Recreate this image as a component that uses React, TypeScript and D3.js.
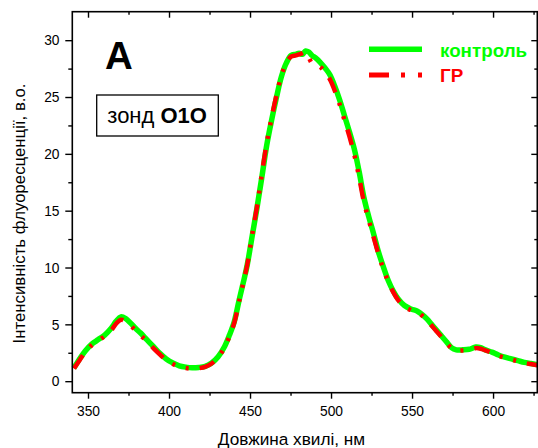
import React from "react";
import * as d3 from "d3";

const wavelengths = [341, 345, 348, 352, 356, 360, 364, 367, 370, 373, 376, 379, 382, 386, 390, 394, 398, 402, 406, 410, 414, 418, 422, 426, 430, 434, 437, 440, 443, 446, 448, 451, 454, 457, 460, 463, 466, 469, 472, 475, 478, 480, 482, 484, 486, 488, 490, 493, 496, 499, 502, 505, 508, 511, 514, 517, 520, 523, 526, 529, 532, 535, 538, 541, 545, 549, 553, 556, 559, 562, 565, 568, 571, 574, 577, 581, 585, 589, 592, 595, 599, 603, 607, 611, 615, 619, 623, 627];

const control = [1.2, 2.1, 2.7, 3.3, 3.7, 4.1, 4.7, 5.3, 5.7, 5.55, 5.15, 4.7, 4.3, 3.7, 3.1, 2.5, 2.0, 1.65, 1.4, 1.28, 1.22, 1.25, 1.35, 1.65, 2.2, 3.1, 4.1, 5.3, 7.2, 9.0, 10.3, 12.8, 15.3, 18.0, 20.8, 23.0, 25.0, 26.8, 28.0, 28.7, 28.8, 28.9, 28.8, 29.1, 29.0, 28.7, 28.5, 28.1, 27.6, 27.0, 26.0, 24.8, 23.4, 22.0, 20.5, 18.5, 16.2, 14.5, 13.0, 11.4, 10.1, 8.9, 8.0, 7.3, 6.7, 6.4, 6.2, 5.9, 5.5, 5.0, 4.5, 4.0, 3.5, 3.0, 2.8, 2.8, 2.85, 3.05, 3.0, 2.8, 2.6, 2.35, 2.15, 2.0, 1.85, 1.7, 1.6, 1.5];

const gr = [1.15, 2.0, 2.6, 3.2, 3.6, 4.0, 4.5, 5.1, 5.45, 5.3, 4.95, 4.5, 4.1, 3.55, 2.95, 2.4, 1.9, 1.55, 1.32, 1.2, 1.15, 1.18, 1.3, 1.6, 2.15, 3.0, 4.0, 5.2, 7.1, 9.0, 10.3, 12.9, 15.4, 18.3, 21.0, 23.2, 25.2, 26.9, 28.0, 28.6, 28.7, 28.8, 28.9, 29.0, 28.5, 28.0, 27.9, 27.7, 27.2, 26.6, 25.6, 24.4, 23.0, 21.6, 20.0, 18.0, 15.8, 14.2, 12.7, 11.2, 9.9, 8.8, 7.9, 7.2, 6.6, 6.3, 6.1, 5.8, 5.4, 4.9, 4.4, 3.9, 3.4, 2.95, 2.75, 2.75, 2.8, 2.95, 2.9, 2.75, 2.55, 2.3, 2.1, 1.95, 1.8, 1.65, 1.55, 1.45];

const xMajorTicks = [350, 400, 450, 500, 550, 600];
const xMinorTicks = [375, 425, 475, 525, 575, 625];
const yMajorTicks = [0, 5, 10, 15, 20, 25, 30];
const yMinorTicks = [2.5, 7.5, 12.5, 17.5, 22.5, 27.5];

const seriesNames = ["контроль", "ГР"];
const xTitle = "Довжина хвилі, нм";
const yTitle = "Інтенсивність флуоресценції, в.о.";

const FONT = "'Liberation Sans', Arial, sans-serif";
const GREEN = "#00ff00";
const RED = "#ff0000";

export default function App() {
  const W = 538, H = 448;
  const left = 72.3, right = 537.3, top = 11.7, bottom = 392.7;
  const x = d3.scaleLinear().domain([340, 627]).range([left, right]);
  const y = d3.scaleLinear().domain([-0.97, 32.55]).range([bottom, top]);

  const line = (vals: number[]) =>
    d3.line<number>()
      .x((_, i) => x(wavelengths[i]))
      .y((d) => y(d))
      .curve(d3.curveCatmullRom.alpha(0.5))(vals) || "";

  return (
    <svg width={W} height={H} style={{ position: "absolute", left: 0, top: 0, background: "#fff" }} fontFamily={FONT}>
      <rect x={0} y={0} width={W} height={H} fill="#fff" />
      {/* curves */}
      <path d={line(control)} fill="none" stroke={GREEN} strokeWidth={5.5} strokeLinejoin="round" />
      <path d={line(gr)} fill="none" stroke={RED} strokeWidth={4.5} strokeDasharray="16,11,3,11,3,11" />

      {/* frame */}
      <rect x={left} y={top} width={right - left} height={bottom - top} fill="none" stroke="#000" strokeWidth={1.6} />

      {/* bottom ticks */}
      {xMajorTicks.map((t) => (
        <g key={"xb" + t}>
          <line x1={x(t)} x2={x(t)} y1={bottom} y2={bottom + 6} stroke="#000" strokeWidth={1.4} />
          <line x1={x(t)} x2={x(t)} y1={top} y2={top + 6} stroke="#000" strokeWidth={1.4} />
          <text x={x(t)} y={416} textAnchor="middle" fontSize={13.8} fill="#000">{t}</text>
        </g>
      ))}
      {xMinorTicks.map((t) => (
        <g key={"xm" + t}>
          <line x1={x(t)} x2={x(t)} y1={bottom} y2={bottom + 3} stroke="#000" strokeWidth={1.4} />
          <line x1={x(t)} x2={x(t)} y1={top} y2={top + 3} stroke="#000" strokeWidth={1.4} />
        </g>
      ))}
      {yMajorTicks.map((t) => (
        <g key={"yb" + t}>
          <line x1={left - 7} x2={left} y1={y(t)} y2={y(t)} stroke="#000" strokeWidth={1.4} />
          <line x1={right - 6} x2={right} y1={y(t)} y2={y(t)} stroke="#000" strokeWidth={1.4} />
          <text x={59.5} y={y(t) + 4.8} textAnchor="end" fontSize={13.8} fill="#000">{t}</text>
        </g>
      ))}
      {yMinorTicks.map((t) => (
        <g key={"ym" + t}>
          <line x1={left - 4} x2={left} y1={y(t)} y2={y(t)} stroke="#000" strokeWidth={1.4} />
          <line x1={right - 3} x2={right} y1={y(t)} y2={y(t)} stroke="#000" strokeWidth={1.4} />
        </g>
      ))}

      {/* axis titles */}
      <text x={291.5} y={445} textAnchor="middle" fontSize={17.2} fill="#000">{xTitle}</text>
      <text transform={`translate(25,213.5) rotate(-90)`} textAnchor="middle" fontSize={16.8} fill="#000">{yTitle}</text>

      {/* panel letter */}
      <text x={105} y={69} fontSize={38.5} fontWeight="bold" fill="#000">A</text>

      {/* probe box */}
      <rect x={96.7} y={95} width={121.6} height={41} fill="#fff" stroke="#000" strokeWidth={1.3} />
      <text x={107.3} y={123.3} fontSize={22} fill="#000">
        зонд <tspan fontWeight="bold">O1O</tspan>
      </text>

      {/* legend */}
      <line x1={369} x2={422} y1={49.3} y2={49.3} stroke={GREEN} strokeWidth={5.5} />
      <line x1={369} x2={422} y1={75} y2={75} stroke={RED} strokeWidth={5} strokeDasharray="20,12,4,13,4,20" />
      <text x={440} y={57} fontSize={18.8} fontWeight="bold" fill={GREEN}>{seriesNames[0]}</text>
      <text x={440} y={81.5} fontSize={18.8} fontWeight="bold" fill={RED}>{seriesNames[1]}</text>
    </svg>
  );
}
